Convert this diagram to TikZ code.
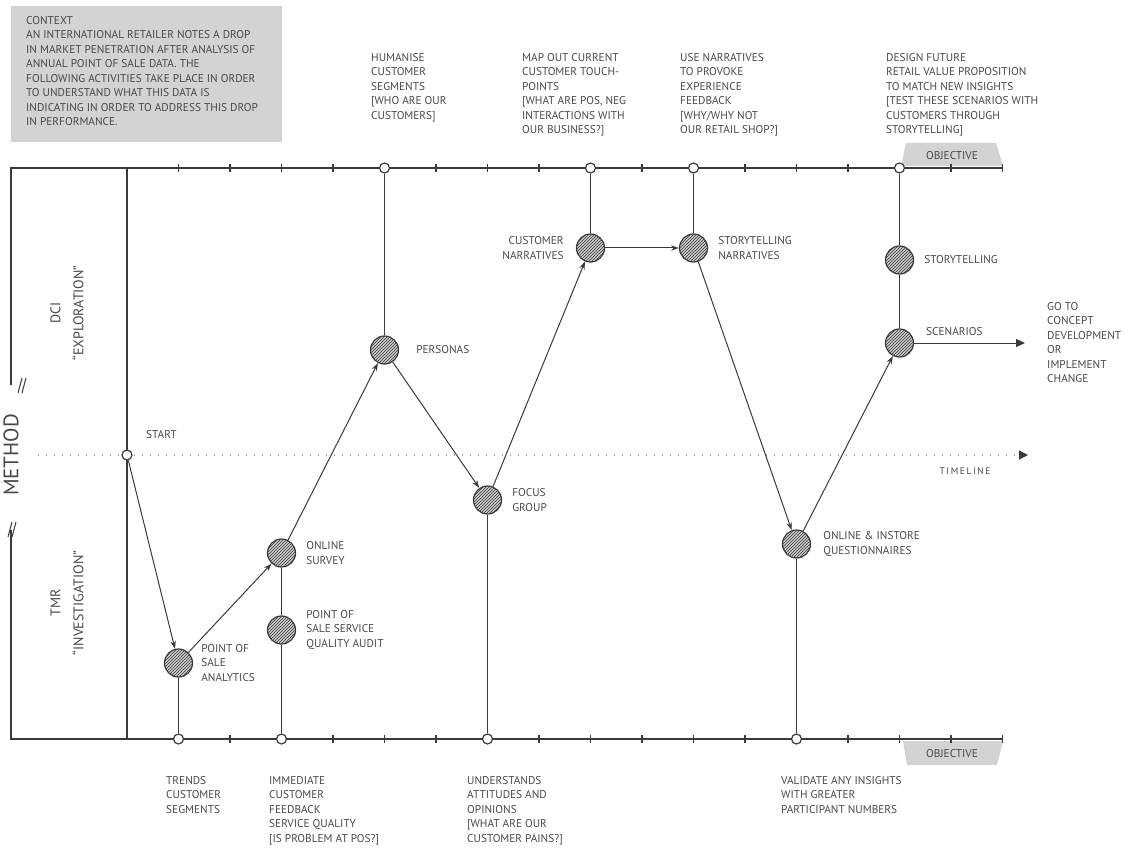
\documentclass[tikz,border=0pt]{standalone}
\usepackage{fontspec}
\setmainfont{PT Sans}
\usepackage{tikz}
\usetikzlibrary{positioning, arrows.meta, patterns}

\definecolor{ink}{HTML}{3A3A3A}
\definecolor{txt}{HTML}{484848}
\definecolor{boxgray}{HTML}{D3D3D3}

\begin{document}
\begin{tikzpicture}[x=1pt, y=-1pt,
  axis/.style={line width=1.3pt, draw=ink},
  link/.style={line width=1pt, draw=ink, -{Stealth[length=8pt, width=5.5pt]}},
  hatch/.style={circle, minimum size=28pt, inner sep=0pt, draw=ink, line width=1.2pt,
    fill=gray!40, postaction={pattern=north east lines, pattern color=ink}},
  dot/.style={circle, minimum size=10pt, inner sep=0pt, draw=ink, line width=1.2pt, fill=white},
  lbl/.style={text=txt, font=\fontsize{11.3}{14.5}\selectfont, align=left, inner sep=0pt},
  tab/.style={fill=boxgray, draw=none}
]
\useasboundingbox (0,0) rectangle (1129,850);

% context box
\fill[boxgray] (11,6) rectangle (282,142);
\node[lbl, anchor=north west] (context) at (26,16) {CONTEXT\\
  AN INTERNATIONAL RETAILER NOTES A DROP\\
  IN MARKET PENETRATION AFTER ANALYSIS OF\\
  ANNUAL POINT OF SALE DATA. THE\\
  FOLLOWING ACTIVITIES TAKE PLACE IN ORDER\\
  TO UNDERSTAND WHAT THIS DATA IS\\
  INDICATING IN ORDER TO ADDRESS THIS DROP\\
  IN PERFORMANCE.};

% objective tabs
\fill[tab] (901,166) -- (906,143) -- (996,143) -- (1003,166) -- cycle;
\fill[tab] (903,741) -- (1003,741) -- (997,765) -- (907,765) -- cycle;
\node[lbl] (objtop) at (952,156) {OBJECTIVE};
\node[lbl] (objbot) at (952,754) {OBJECTIVE};

% frame
\draw[axis] (11,385) -- (11,168) -- (1003,168);
\draw[axis] (11,530) -- (11,739) -- (1003,739);
\draw[axis] (127,168) -- (127,739);
\draw[axis, line width=1pt] (18,393) -- (22,378) (22,393) -- (26,378);
\draw[axis, line width=1pt] (8,537) -- (12,522) (12,537) -- (16,522);
\foreach \k in {1,...,17}{
  \draw[axis] (127+51.5*\k,164) -- (127+51.5*\k,172);
  \draw[axis] (127+51.5*\k,735) -- (127+51.5*\k,743);
}

% timeline
\coordinate (tl0) at (38,455);
\coordinate (tl1) at (1028,455);
\draw[gray!70, line width=1.2pt, dash pattern=on 1pt off 7pt,
  -{Triangle[length=9pt, width=9pt, color=ink]}] (tl0) -- (tl1);
\node[lbl, font=\fontsize{9.5}{10}\selectfont] (timeline) at (965,471) {T\,I\,M\,E\,L\,I\,N\,E};

% method labels
\node[lbl, rotate=90, font=\fontsize{21}{22}\selectfont] (method) at (11,455) {METHOD};
\node[lbl, rotate=90, align=center, font=\fontsize{14}{23}\selectfont] (dci) at (67,313) {DCI\\``EXPLORATION''};
\node[lbl, rotate=90, align=center, font=\fontsize{14}{23}\selectfont] (tmr) at (67,603) {TMR\\``INVESTIGATION''};

% small circles on the axes
\node[dot] (start) at (127,455) {};
\node[dot] (t5) at (384.5,168) {};
\node[dot] (t9) at (590.5,168) {};
\node[dot] (t11) at (693.5,168) {};
\node[dot] (t15) at (899.5,168) {};
\node[dot] (b1) at (178.5,739) {};
\node[dot] (b3) at (281.5,739) {};
\node[dot] (b7) at (487.5,739) {};
\node[dot] (b13) at (796.5,739) {};

% activities
\node[hatch] (pos) at (178.5,663) {};
\node[hatch] (survey) at (281.5,553) {};
\node[hatch] (audit) at (281.5,630) {};
\node[hatch] (persona) at (384.5,350) {};
\node[hatch] (focus) at (487.5,500) {};
\node[hatch] (cnar) at (590.5,248) {};
\node[hatch] (snar) at (693.5,248) {};
\node[hatch] (quest) at (796.5,544) {};
\node[hatch] (story) at (899.5,260) {};
\node[hatch] (scen) at (899.5,343) {};

\node[lbl, right=8pt of pos] (poslbl) {POINT OF\\SALE\\ANALYTICS};
\node[lbl, right=10pt of survey] (surveylbl) {ONLINE\\SURVEY};
\node[lbl, right=10pt of audit] (auditlbl) {POINT OF\\SALE SERVICE\\QUALITY AUDIT};
\node[lbl, right=17pt of persona] (personalbl) {PERSONAS};
\node[lbl, right=10pt of focus] (focuslbl) {FOCUS\\GROUP};
\node[lbl, left=12pt of cnar, align=right] (cnarlbl) {CUSTOMER\\NARRATIVES};
\node[lbl, right=10pt of snar] (snarlbl) {STORYTELLING\\NARRATIVES};
\node[lbl, right=12pt of quest] (questlbl) {ONLINE \& INSTORE\\QUESTIONNAIRES};
\node[lbl, right=10pt of story] (storylbl) {STORYTELLING};
\node[lbl, anchor=south west] (scenlbl) at (926,336) {SCENARIOS};
\node[lbl, anchor=west] (startlbl) at (146,435) {START};

% links
\draw[axis, line width=1pt] (pos) -- (b1);
\draw[axis, line width=1pt] (survey) -- (audit) -- (b3);
\draw[axis, line width=1pt] (focus) -- (b7);
\draw[axis, line width=1pt] (quest) -- (b13);
\draw[axis, line width=1pt] (persona) -- (t5);
\draw[axis, line width=1pt] (cnar) -- (t9);
\draw[axis, line width=1pt] (snar) -- (t11);
\draw[axis, line width=1pt] (scen) -- (story) -- (t15);

\draw[link] (start) -- (pos);
\draw[link] (pos) -- (survey);
\draw[link] (survey) -- (persona);
\draw[link] (persona) -- (focus);
\draw[link] (focus) -- (cnar);
\draw[link] (cnar) -- (snar);
\draw[link] (snar) -- (quest);
\draw[link] (quest) -- (scen);
\coordinate (goto) at (1025,343);
\draw[link, -{Triangle[length=9pt, width=8pt]}] (scen) -- (goto);

% top notes
\node[lbl, anchor=north west] (n1) at (371,53) {HUMANISE\\CUSTOMER\\SEGMENTS\\{}[WHO ARE OUR\\CUSTOMERS]};
\node[lbl, anchor=north west] (n2) at (522,53) {MAP OUT CURRENT\\CUSTOMER TOUCH-\\POINTS\\{}[WHAT ARE POS, NEG\\INTERACTIONS WITH\\OUR BUSINESS?]};
\node[lbl, anchor=north west] (n3) at (680,53) {USE NARRATIVES\\TO PROVOKE\\EXPERIENCE\\FEEDBACK\\{}[WHY/WHY NOT\\OUR RETAIL SHOP?]};
\node[lbl, anchor=north west] (n4) at (886,53) {DESIGN FUTURE\\RETAIL VALUE PROPOSITION\\TO MATCH NEW INSIGHTS\\{}[TEST THESE SCENARIOS WITH\\CUSTOMERS THROUGH\\STORYTELLING]};

% bottom notes
\node[lbl, anchor=north west] (m1) at (166,776) {TRENDS\\CUSTOMER\\SEGMENTS};
\node[lbl, anchor=north west] (m2) at (269,776) {IMMEDIATE\\CUSTOMER\\FEEDBACK\\SERVICE QUALITY\\{}[IS PROBLEM AT POS?]};
\node[lbl, anchor=north west] (m3) at (467,776) {UNDERSTANDS\\ATTITUDES AND\\OPINIONS\\{}[WHAT ARE OUR\\CUSTOMER PAINS?]};
\node[lbl, anchor=north west] (m4) at (781,776) {VALIDATE ANY INSIGHTS\\WITH GREATER\\PARTICIPANT NUMBERS};

% outcome
\node[lbl, anchor=north west] (out) at (1047,302) {GO TO\\CONCEPT\\DEVELOPMENT\\OR\\IMPLEMENT\\CHANGE};

\end{tikzpicture}
\end{document}
